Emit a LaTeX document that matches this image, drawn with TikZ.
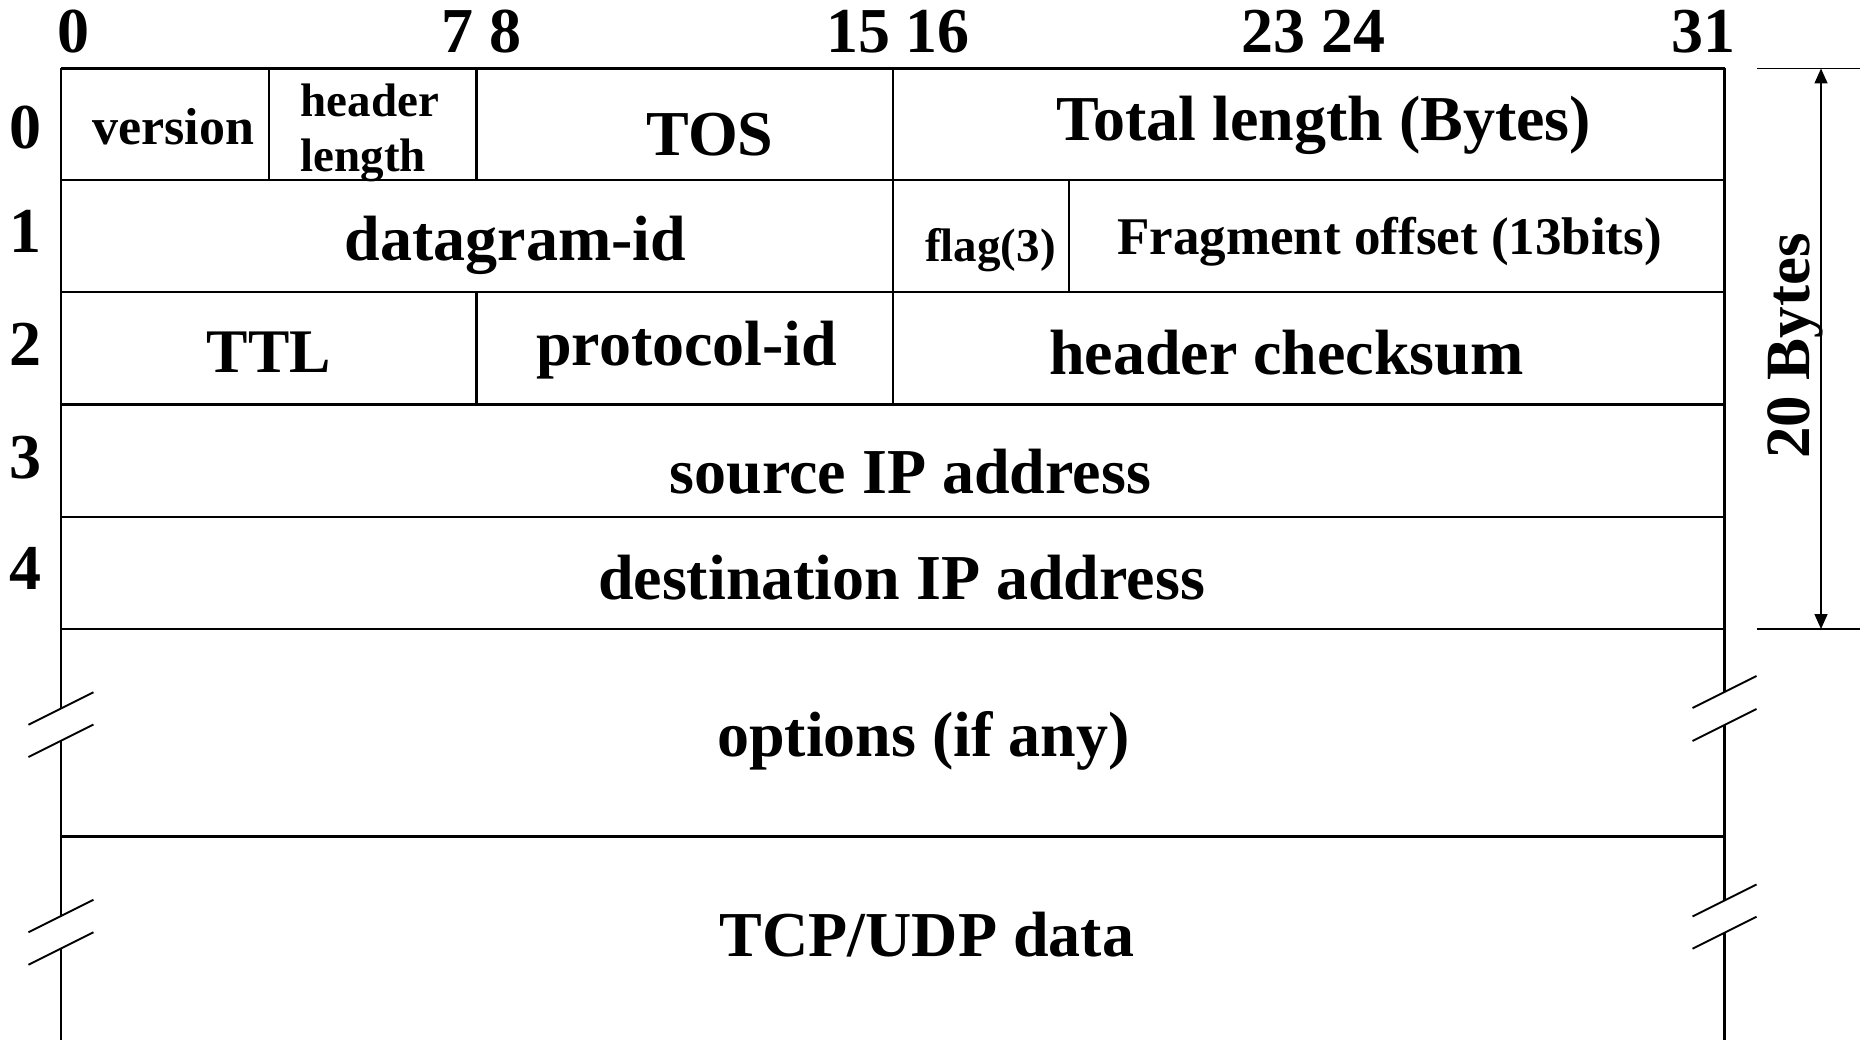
\documentclass[tikz,border=0pt]{standalone}
\usepackage{fontspec}
\setmainfont{Liberation Serif}
\usetikzlibrary{arrows.meta}
\newcommand\tsz[1]{\fontsize{#1}{#1}\selectfont}
\begin{document}
\begin{tikzpicture}[x=1pt,y=-1pt,
  lbl/.style={inner sep=0pt, outer sep=0pt, anchor=base, font=\bfseries\tsz{64}},
  gridline/.style={line width=2.1pt},
  brk/.style={line width=1.9pt},
  dimline/.style={line width=1.6pt}]
\useasboundingbox (0,0) rectangle (1860,1040);
% horizontal row lines
\foreach \yy in {68.5,180,292,404.5,517,629,836.5}
  \draw[gridline] (61,\yy) -- (1724.5,\yy);
% outer vertical lines with breaks
\draw[gridline] (61,68.5) -- (61,708.5);
\draw[gridline] (61,740.7) -- (61,916);
\draw[gridline] (61,948.5) -- (61,1040);
\draw[gridline] (1724.5,68.5) -- (1724.5,692);
\draw[gridline] (1724.5,725) -- (1724.5,900.5);
\draw[gridline] (1724.5,932.7) -- (1724.5,1040);
% break marks
\draw[brk] (28.5,724.75) -- (93.5,692.25);
\draw[brk] (28.5,757) -- (93.5,724.5);
\draw[brk] (28.5,932.25) -- (93.5,899.75);
\draw[brk] (28.5,964.75) -- (93.5,932.25);
\draw[brk] (1692.5,708) -- (1756.5,676);
\draw[brk] (1692.5,741) -- (1756.5,709);
\draw[brk] (1692.5,916.5) -- (1756.5,884.5);
\draw[brk] (1692.5,948.7) -- (1756.5,916.7);
% column dividers
\draw[gridline] (269.3,68.5) -- (269.3,180);
\draw[gridline] (476.5,68.5) -- (476.5,180);
\draw[gridline] (893,68.5) -- (893,292);
\draw[gridline] (1068.8,180) -- (1068.8,292);
\draw[gridline] (476.5,292) -- (476.5,404.5);
\draw[gridline] (893,292) -- (893,404.5);
% bit numbers
\node[lbl] (b0) at (73.7,53) {0};
\node[lbl] (b7) at (457.5,53) {7};
\node[lbl] (b8) at (505,53) {8};
\node[lbl] (b15) at (858.8,53) {15};
\node[lbl] (b16) at (937.6,53) {16};
\node[lbl] (b23) at (1273.7,53) {23};
\node[lbl] (b24) at (1353,53) {24};
\node[lbl] (b31) at (1703.6,53) {31};
% row numbers
\node[lbl] (r0) at (25.5,149) {0};
\node[lbl] (r1) at (25.5,253) {1};
\node[lbl] (r2) at (25.5,366) {2};
\node[lbl] (r3) at (25.5,478) {3};
\node[lbl] (r4) at (25.5,589) {4};
% fields
\node[lbl, font=\bfseries\tsz{52}] (ver) at (173.4,145) {version};
\node[lbl, font=\bfseries\tsz{47}] (hl1) at (366,116.7) {\makebox[0pt][l]{\hspace*{-65.3pt}header}};
\node[lbl, font=\bfseries\tsz{47}] (hl2) at (366,171.7) {\makebox[0pt][l]{\hspace*{-65.3pt}length}};
\node[lbl] (tos) at (710,156) {TOS};
\node[lbl] (tot) at (1323.8,141) {Total length (Bytes)};
\node[lbl] (dgid) at (515.4,261) {datagram-id};
\node[lbl, font=\bfseries\tsz{47}] (flag) at (990.5,261.7) {flag(3)};
\node[lbl, font=\bfseries\tsz{53}] (frag) at (1389.6,255) {Fragment offset (13bits)};
\node[lbl, font=\bfseries\tsz{62}] (ttl) at (268.7,372.7) {TTL};
\node[lbl] (proto) at (686.8,365.4) {protocol-id};
\node[lbl] (cks) at (1286.4,374.8) {header checksum};
\node[lbl] (src) at (910.4,493.5) {source IP address};
\node[lbl] (dst) at (901.5,599) {destination IP address};
\node[lbl] (opt) at (923.5,756) {options (if any)};
\node[lbl] (data) at (927,956) {TCP/UDP data};
% dimension
\draw[dimline] (1757,68.5) -- (1860,68.5);
\draw[dimline] (1757,629) -- (1860,629);
\coordinate (dtop) at (1821,68.5);
\coordinate (dbot) at (1821,629);
\draw[dimline, {Triangle[length=15pt,width=13pt]}-{Triangle[length=15pt,width=13pt]}] (dtop) -- (dbot);
\node[lbl, rotate=90, font=\bfseries\tsz{63}] (bytes) at (1809,346) {20 Bytes};
\end{tikzpicture}
\end{document}
